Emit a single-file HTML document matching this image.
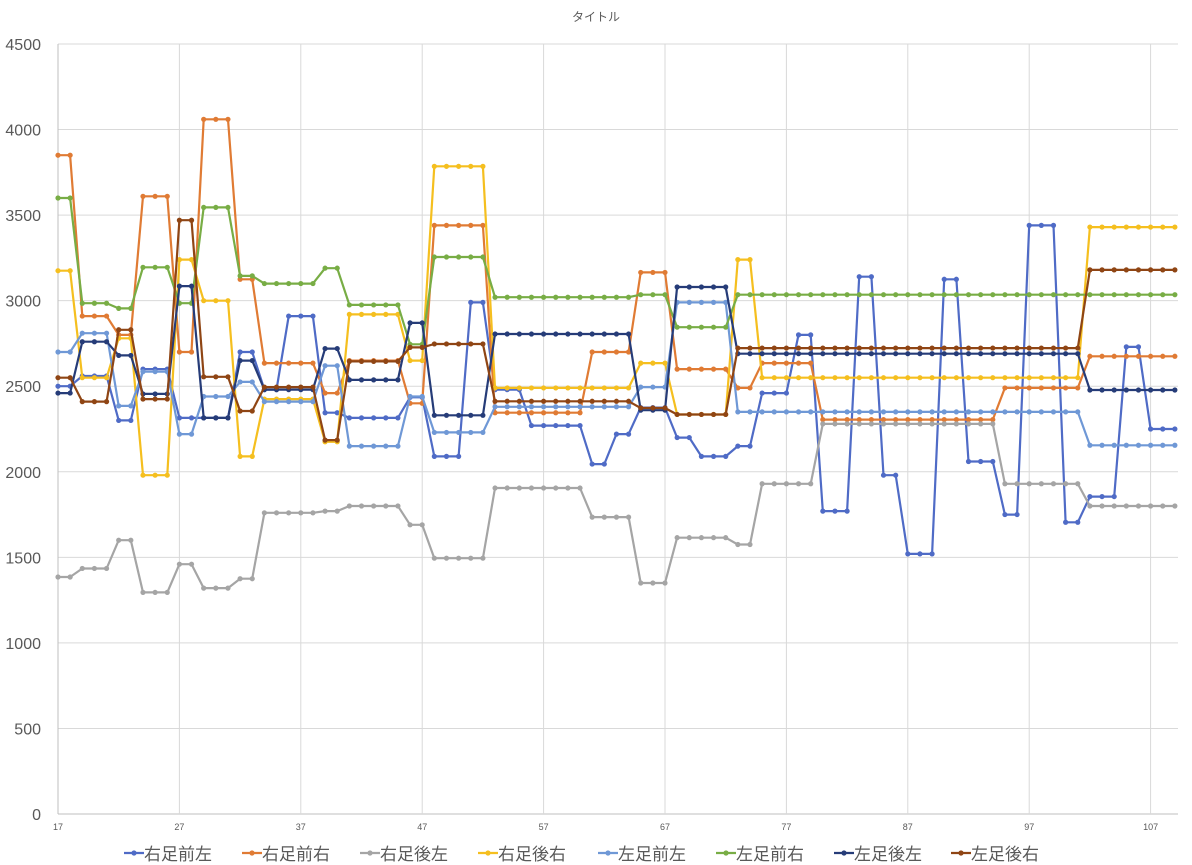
<!DOCTYPE html>
<html><head><meta charset="utf-8"><style>
html,body{margin:0;padding:0;background:#fff;}
svg{display:block;font-family:"Liberation Sans","Noto Sans CJK JP",sans-serif;}
</style></head><body>
<svg id="chart" width="1192" height="865" viewBox="0 0 1192 865" xmlns="http://www.w3.org/2000/svg">
<rect x="0" y="0" width="1192" height="865" fill="#fff"/>
<text x="596" y="21" text-anchor="middle" font-size="12" fill="#595959">タイトル</text>
<g id="grid"></g>
<g id="yticks"></g>
<g id="xticks"></g>
<g id="series"></g>
<g id="legend"></g>
</svg>
<script>
const xStart = 17;
const yTicks = [0,500,1000,1500,2000,2500,3000,3500,4000,4500];
const xTickLabels = [17,27,37,47,57,67,77,87,97,107];
const seriesNames = ["右足前左","右足前右","右足後左","右足後右","左足前左","左足前右","左足後左","左足後右"];
const s1 = [2500,2500, 2560,2560,2560, 2300,2300, 2600,2600,2600, 2315,2315, 2315,2315,2315, 2700,2700, 2480,2480,2910,2910,2910, 2345,2345, 2315,2315,2315,2315,2315, 2435,2435, 2090,2090,2090,2990,2990, 2480,2480,2480, 2270,2270,2270,2270,2270, 2045,2045, 2220,2220, 2375,2375,2375, 2200,2200,2090,2090,2090, 2150,2150, 2460,2460,2460, 2800,2800, 1770,1770,1770, 3140,3140, 1980,1980, 1520,1520,1520, 3125,3125, 2060,2060,2060, 1750,1750, 3440,3440,3440, 1705,1705, 1855,1855,1855, 2730,2730, 2250,2250,2250];
const s2 = [3850,3850, 2910,2910,2910, 2800,2800, 3610,3610,3610, 2700,2700, 4060,4060,4060, 3125,3125, 2635,2635,2635,2635,2635, 2460,2460, 2650,2650,2650,2650,2650, 2400,2400, 3440,3440,3440,3440,3440, 2345,2345,2345,2345,2345,2345,2345,2345, 2700,2700,2700,2700, 3165,3165,3165, 2600,2600,2600,2600,2600, 2490,2490, 2635,2635,2635,2635,2635, 2305,2305,2305,2305,2305,2305,2305,2305,2305,2305,2305,2305,2305,2305,2305, 2490,2490,2490,2490,2490,2490,2490, 2675,2675,2675,2675,2675,2675,2675,2675];
const s3 = [1385,1385, 1435,1435,1435, 1600,1600, 1295,1295,1295, 1460,1460, 1320,1320,1320, 1375,1375, 1760,1760,1760,1760,1760, 1770,1770, 1800,1800,1800,1800,1800, 1690,1690, 1495,1495,1495,1495,1495, 1905,1905,1905,1905,1905,1905,1905,1905, 1735,1735,1735,1735, 1350,1350,1350, 1615,1615,1615,1615,1615, 1575,1575, 1930,1930,1930,1930,1930, 2280,2280,2280,2280,2280,2280,2280,2280,2280,2280,2280,2280,2280,2280,2280, 1930,1930,1930,1930,1930,1930,1930, 1800,1800,1800,1800,1800,1800,1800,1800];
const s4 = [3175,3175, 2550,2550,2550, 2780,2780, 1980,1980,1980, 3240,3240, 3000,3000,3000, 2090,2090, 2425,2425,2425,2425,2425, 2175,2175, 2920,2920,2920,2920,2920, 2650,2650, 3785,3785,3785,3785,3785, 2490,2490,2490,2490,2490,2490,2490,2490,2490,2490,2490,2490, 2635,2635,2635, 2335,2335,2335,2335,2335, 3240,3240, 2550,2550,2550,2550,2550,2550,2550,2550,2550,2550,2550,2550,2550,2550,2550,2550,2550,2550,2550,2550,2550,2550,2550,2550,2550,2550,2550, 3430,3430,3430,3430,3430,3430,3430,3430];
const s5 = [2700,2700, 2810,2810,2810, 2385,2385, 2585,2585,2585, 2220,2220, 2440,2440,2440, 2525,2525, 2410,2410,2410,2410,2410, 2620,2620, 2150,2150,2150,2150,2150, 2440,2440, 2230,2230,2230,2230,2230, 2380,2380,2380,2380,2380,2380,2380,2380,2380,2380,2380,2380, 2495,2495,2495, 2990,2990,2990,2990,2990, 2350,2350,2350,2350,2350,2350,2350,2350,2350,2350,2350,2350,2350,2350,2350,2350,2350,2350,2350,2350,2350,2350,2350,2350,2350,2350,2350,2350,2350, 2155,2155,2155,2155,2155,2155,2155,2155];
const s6 = [3600,3600, 2985,2985,2985, 2955,2955, 3195,3195,3195, 2985,2985, 3545,3545,3545, 3145,3145, 3100,3100,3100,3100,3100, 3190,3190, 2975,2975,2975,2975,2975, 2745,2745, 3255,3255,3255,3255,3255, 3020,3020,3020,3020,3020,3020,3020,3020,3020,3020,3020,3020, 3035,3035,3035, 2845,2845,2845,2845,2845, 3035,3035,3035,3035,3035,3035,3035,3035,3035,3035,3035,3035,3035,3035,3035,3035,3035,3035,3035,3035,3035,3035,3035,3035,3035,3035,3035,3035,3035,3035,3035,3035,3035,3035,3035,3035,3035];
const s7 = [2460,2460, 2760,2760,2760, 2680,2680, 2455,2455,2455, 3085,3085, 2315,2315,2315, 2650,2650, 2480,2480,2480,2480,2480, 2720,2720, 2537,2537,2537,2537,2537, 2870,2870, 2330,2330,2330,2330,2330, 2805,2805,2805,2805,2805,2805,2805,2805,2805,2805,2805,2805, 2360,2360,2360, 3080,3080,3080,3080,3080, 2690,2690,2690,2690,2690,2690,2690,2690,2690,2690,2690,2690,2690,2690,2690,2690,2690,2690,2690,2690,2690,2690,2690,2690,2690,2690,2690,2690,2690, 2478,2478,2478,2478,2478,2478,2478,2478];
const s8 = [2550,2550, 2410,2410,2410, 2830,2830, 2425,2425,2425, 3470,3470, 2555,2555,2555, 2355,2355, 2495,2495,2495,2495,2495, 2185,2185, 2645,2645,2645,2645,2645, 2727,2727, 2747,2747,2747,2747,2747, 2412,2412,2412,2412,2412,2412,2412,2412,2412,2412,2412,2412, 2373,2373,2373, 2335,2335,2335,2335,2335, 2723,2723,2723,2723,2723,2723,2723,2723,2723,2723,2723,2723,2723,2723,2723,2723,2723,2723,2723,2723,2723,2723,2723,2723,2723,2723,2723,2723,2723, 3180,3180,3180,3180,3180,3180,3180,3180];

const NS = "http://www.w3.org/2000/svg";
const colors = ["#4F6BC6","#E07B34","#A5A5A5","#F5BF1F","#6F98D6","#78AD45","#263C78","#8F4514"];
const allSeries = [s1,s2,s3,s4,s5,s6,s7,s8];
const plotL = 58, plotR = 1178, plotT = 44, plotB = 814;
const pxPerX = 12.14;
const yMax = 4500;
function xScale(xv){ return plotL + (xv - xStart) * pxPerX; }
function yScale(v){ return plotB - v / yMax * (plotB - plotT); }
function mk(tag, attrs, parent){ const e = document.createElementNS(NS, tag); for (const k in attrs) e.setAttribute(k, attrs[k]); parent.appendChild(e); return e; }

const grid = document.getElementById("grid");
yTicks.forEach(t => {
  const l = mk("line", {x1: plotL, x2: plotR, y1: yScale(t), y2: yScale(t), stroke: t === 0 ? "#bfbfbf" : "#d9d9d9", "stroke-width": 1}, grid);
  
  
});
xTickLabels.forEach(t => {
  const l = mk("line", {x1: xScale(t), x2: xScale(t), y1: plotT, y2: plotB, stroke: t === xStart ? "#bfbfbf" : "#d9d9d9", "stroke-width": 1}, grid);
  
  
});
const yt = document.getElementById("yticks");
yTicks.forEach(t => {
  const tx = mk("text", {x: 41, y: yScale(t) + 6, "text-anchor": "end", "font-size": 16, fill: "#595959"}, yt);
  tx.textContent = t;
  
  
});
const xt = document.getElementById("xticks");
xTickLabels.forEach(t => {
  const tx = mk("text", {x: xScale(t), y: 830, "text-anchor": "middle", "font-size": 9, fill: "#595959"}, xt);
  tx.textContent = t;
  
  
});
const sg = document.getElementById("series");
allSeries.forEach((s, si) => {
  const g = mk("g", {}, sg);
  
  
  const pts = s.map((v, i) => xScale(xStart + i).toFixed(1) + "," + yScale(v).toFixed(1)).join(" ");
  const pl = mk("polyline", {points: pts, fill: "none", stroke: colors[si], "stroke-width": 2.2, "stroke-linejoin": "round"}, g);
  
  
  s.forEach((v, i) => {
    const c = mk("circle", {cx: xScale(xStart + i), cy: yScale(v), r: 2.6, fill: colors[si]}, g);
    
    
  });
});
const lg = document.getElementById("legend");
const legendX = [124, 242, 360, 478, 598, 716, 834, 951];
seriesNames.forEach((n, i) => {
  const g = mk("g", {}, lg);
  
  
  const x0 = legendX[i];
  mk("line", {x1: x0, x2: x0 + 20, y1: 853, y2: 853, stroke: colors[i], "stroke-width": 2.2}, g);
  mk("circle", {cx: x0 + 10, cy: 853, r: 2.6, fill: colors[i]}, g);
  const tx = mk("text", {x: x0 + 20, y: 860, "font-size": 17, fill: "#595959"}, g);
  tx.textContent = n;
  
  
});
</script>
</body></html>
